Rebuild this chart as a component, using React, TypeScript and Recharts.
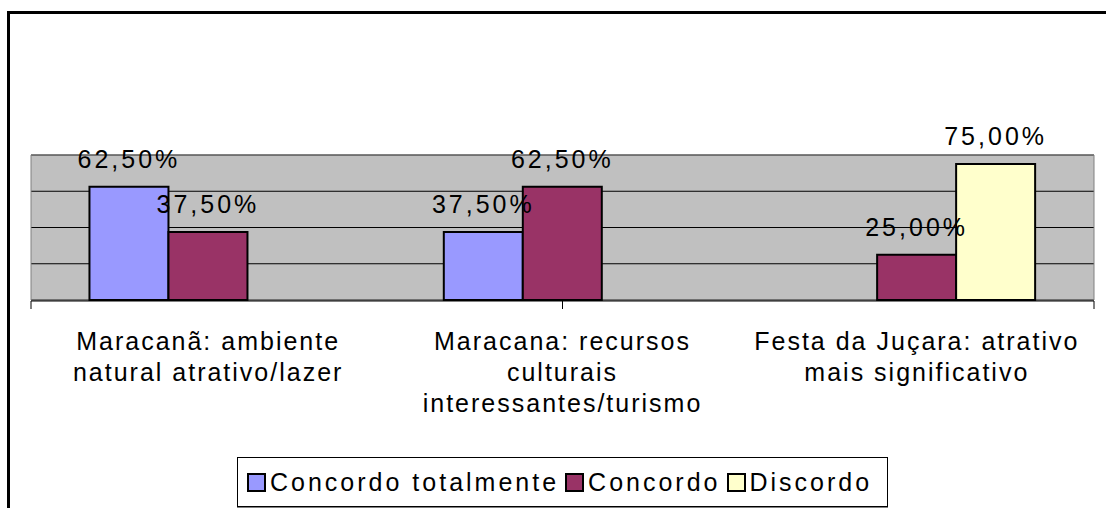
import {
  Bar,
  BarChart,
  CartesianGrid,
  LabelList,
  Legend,
  ReferenceArea,
  XAxis,
  YAxis,
} from "recharts";

const categories = [
  "Maracanã: ambiente\nnatural atrativo/lazer",
  "Maracana: recursos\nculturais\ninteressantes/turismo",
  "Festa da Juçara: atrativo\nmais significativo",
];
const concordoTotalmente = [0.625, 0.375, null];
const concordo = [0.375, 0.625, 0.25];
const discordo = [null, null, 0.75];

const seriesKeys = ["ct", "c", "d"];
const seriesNames = ["Concordo totalmente", "Concordo", "Discordo"];
const seriesColors = ["#9999FF", "#993366", "#FFFFCC"];

const yDomain = [0, 0.8];
const gridTicks = [0.2, 0.4, 0.6];
const edgeTicks = [0, 1, 2, 3];

const data = categories.map((name, i) => ({
  name,
  ct: concordoTotalmente[i],
  c: concordo[i],
  d: discordo[i],
}));

const FONT = '"Liberation Sans", Arial, sans-serif';

const formatPct = (v: any) =>
  v == null ? "" : (Number(v) * 100).toFixed(2).replace(".", ",") + "%";

// rótulos de categoria em várias linhas
const CategoryTick = (props: any) => {
  const { x, y, payload } = props;
  const lines = String(payload.value).split("\n");
  return (
    <text
      x={x}
      y={y}
      textAnchor="middle"
      fill="#000"
      fontSize={25}
      fontFamily={FONT}
      style={{ letterSpacing: 2 }}
    >
      {lines.map((line, i) => (
        <tspan key={i} x={x} dy={i === 0 ? 50 : 31}>
          {line}
        </tspan>
      ))}
    </text>
  );
};

const renderLegend = () => (
  <div
    style={{
      boxSizing: "border-box",
      width: "100%",
      height: "100%",
      border: "1px solid #000",
      background: "#fff",
      boxShadow: "0 1px 0 #808080",
      display: "flex",
      alignItems: "center",
      paddingLeft: 9,
      fontFamily: FONT,
      fontSize: 25,
      letterSpacing: 3,
      color: "#000",
      whiteSpace: "nowrap",
    }}
  >
    {seriesNames.map((name, i) => (
      <span
        key={name}
        style={{ display: "flex", alignItems: "center", marginRight: 6 }}
      >
        <span
          style={{
            display: "inline-block",
            width: 15,
            height: 15,
            border: "2px solid #000",
            background: seriesColors[i],
            marginRight: 4,
          }}
        />
        {name}
      </span>
    ))}
  </div>
);

export default function App() {
  return (
    <div
      style={{
        position: "fixed",
        left: 0,
        top: 0,
        width: 1106,
        height: 508,
        overflow: "hidden",
        background: "#fff",
      }}
    >
      <div
        style={{
          position: "absolute",
          left: 7,
          top: 11,
          width: 1130,
          height: 530,
          border: "3px solid #000",
        }}
      />
      <div style={{ position: "absolute", left: 0, top: 0 }}>
        <BarChart
          width={1106}
          height={508}
          data={data}
          margin={{ top: 155, right: 12, bottom: 107, left: 31 }}
          barCategoryGap="16.5%"
          barGap={0}
          style={{ fontFamily: FONT }}
        >
          <CartesianGrid
            vertical={false}
            fill="#C0C0C0"
            stroke="#000"
            strokeWidth={1}
          />
          <XAxis
            xAxisId="edges"
            type="number"
            domain={[0, 3]}
            ticks={edgeTicks}
            interval={0}
            allowDataOverflow
            height={100}
            axisLine={{ stroke: "#000" }}
            tickLine={{ stroke: "#000" }}
            tickSize={8}
            tickFormatter={() => ""}
          />
          <XAxis
            dataKey="name"
            height={1}
            axisLine={false}
            tickLine={false}
            tickSize={0}
            tickMargin={0}
            interval={0}
            tick={<CategoryTick />}
          />
          <YAxis hide domain={yDomain} ticks={gridTicks} />
          <ReferenceArea
            y1={yDomain[0]}
            y2={yDomain[1]}
            fill="none"
            stroke="#808080"
            strokeWidth={1}
            ifOverflow="visible"
          />
          {seriesKeys.map((key, i) => (
            <Bar
              key={key}
              dataKey={key}
              name={seriesNames[i]}
              fill={seriesColors[i]}
              stroke="#000"
              strokeWidth={2}
              isAnimationActive={false}
            >
              <LabelList
                dataKey={key}
                position="top"
                offset={19}
                formatter={formatPct}
                fill="#000"
                fontSize={25}
                fontFamily={FONT}
                style={{ letterSpacing: 3 }}
              />
            </Bar>
          ))}
          <Legend
            layout="horizontal"
            verticalAlign="middle"
            align="center"
            wrapperStyle={{ top: 457, left: 237, width: 651, height: 50 }}
            content={renderLegend}
          />
        </BarChart>
      </div>
    </div>
  );
}
